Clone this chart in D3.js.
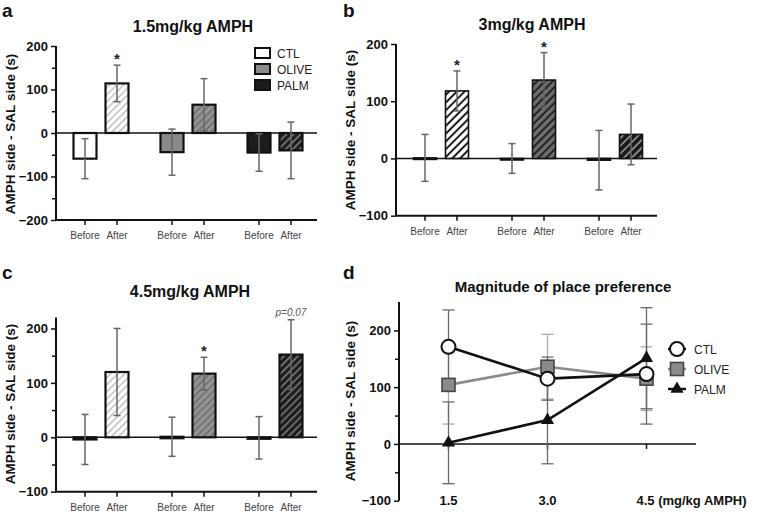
<!DOCTYPE html>
<html lang="en">
<head>
<meta charset="UTF-8">
<title>Place preference</title>
<script src="https://d3js.org/d3.v7.min.js"></script>
<style>
    body { margin: 0; background: #fff; }
    svg { font-family: "Liberation Sans", Arial, sans-serif; }
</style>
</head>
<body>
<div id="chart"></div>
<script>
// data
var groups = ["CTL", "OLIVE", "PALM"];
var phases = ["Before", "After"];

// order: CTL before, CTL after, OLIVE before, OLIVE after, PALM before, PALM after
var meansA = [-59, 114, -44, 65, -45, -40];
var semA   = [46, 42, 53, 60, 43, 65];
var notesA = ["", "*", "", "", "", ""];

var meansB = [1, 118, 0, 137, -3, 42];
var semB   = [41, 35, 26, 48, 52, 53];
var notesB = ["", "*", "", "*", "", ""];

var meansC = [-4, 120, 1, 117, -1, 152];
var semC   = [46, 80, 36, 30, 39, 64];
var notesC = ["", "", "", "*", "", "p=0.07"];

var doses    = [1.5, 3.0, 4.5];
var ctlMag   = [171, 115, 123];
var ctlErr   = [65, 38, 88];
var oliveMag = [104, 136, 115];
var oliveErr = [69, 57, 56];
var palmMag  = [2, 42, 151];
var palmErr  = [72, 77, 89];

var svg = d3.select("#chart").append("svg")
    .attr("width", 759)
    .attr("height", 514);

// hatch patterns
var defs = svg.append("defs");
function hatch(id, bg, fg, w, gap) {
    var p = defs.append("pattern")
        .attr("id", id)
        .attr("patternUnits", "userSpaceOnUse")
        .attr("width", gap).attr("height", gap)
        .attr("patternTransform", "rotate(45)");
    p.append("rect").attr("width", gap).attr("height", gap).attr("fill", bg);
    p.append("line").attr("x1", gap / 2).attr("x2", gap / 2)
        .attr("y1", 0).attr("y2", gap)
        .attr("stroke", fg).attr("stroke-width", w);
}
hatch("ctlLight", "#fff", "#b5b5b5", 1.3, 5);
hatch("oliveLight", "#959595", "#666", 1.4, 5);
hatch("palmLight", "#1c1c1c", "#8a8a8a", 1.4, 5);
hatch("ctlDark", "#fff", "#1a1a1a", 2, 5.5);
hatch("oliveDark", "#6e6e6e", "#222", 2, 5.5);
hatch("palmDark", "#1a1a1a", "#9a9a9a", 1.6, 5.5);

var beforeFill = ["#fff", "#8a8a8a", "#1c1c1c"];

function barPanel(opt) {
    var g = svg.append("g");
    var x = d3.scaleBand().domain(groups).range([opt.x0, opt.x1]);
    var xi = d3.scaleBand().domain(phases).range([13, 77]);
    var y = d3.scaleLinear().domain(opt.domain).range(opt.yRange);
    var barW = 23;

    var rows = [];
    groups.forEach(function (gr, i) {
        phases.forEach(function (ph, j) {
            var k = i * 2 + j;
            rows.push({
                group: gr, phase: ph, gi: i,
                mean: opt.means[k], sem: opt.sem[k], note: opt.notes[k],
                cx: x(gr) + xi(ph) + xi.bandwidth() / 2
            });
        });
    });

    // zero line
    g.append("line")
        .attr("x1", opt.x0).attr("x2", opt.x1)
        .attr("y1", y(0)).attr("y2", y(0))
        .attr("stroke", "#111").attr("stroke-width", 1.4);

    // bars
    g.selectAll("rect.bar").data(rows).enter().append("rect")
        .attr("class", "bar")
        .attr("x", function (d) { return d.cx - barW / 2; })
        .attr("width", barW)
        .attr("y", function (d) { return Math.min(y(d.mean), y(0)); })
        .attr("height", function (d) { return Math.max(Math.abs(y(d.mean) - y(0)), 1.5); })
        .attr("fill", function (d) {
            return d.phase === "Before" ? beforeFill[d.gi] : "url(#" + opt.after[d.gi] + ")";
        })
        .attr("stroke", "#111")
        .attr("stroke-width", opt.barStroke);

    // error bars
    var eb = g.selectAll("g.err").data(rows).enter().append("g")
        .attr("stroke", "#666").attr("stroke-width", 1.5);
    eb.append("line")
        .attr("x1", function (d) { return d.cx; })
        .attr("x2", function (d) { return d.cx; })
        .attr("y1", function (d) { return y(d.mean + d.sem); })
        .attr("y2", function (d) { return y(d.mean - d.sem); });
    [1, -1].forEach(function (s) {
        eb.append("line")
            .attr("x1", function (d) { return d.cx - 3.5; })
            .attr("x2", function (d) { return d.cx + 3.5; })
            .attr("y1", function (d) { return y(d.mean + s * d.sem); })
            .attr("y2", function (d) { return y(d.mean + s * d.sem); });
    });

    // stars / p values
    g.selectAll("text.note").data(rows.filter(function (d) { return d.note; }))
        .enter().append("text")
        .attr("x", function (d) { return d.cx; })
        .attr("y", function (d) { return y(d.mean + d.sem) - (d.note === "*" ? 1 : 4); })
        .attr("text-anchor", "middle")
        .attr("font-size", function (d) { return d.note === "*" ? 15 : 10; })
        .attr("font-weight", function (d) { return d.note === "*" ? "bold" : "normal"; })
        .attr("font-style", function (d) { return d.note === "*" ? "normal" : "italic"; })
        .attr("fill", function (d) { return d.note === "*" ? "#222" : "#555"; })
        .text(function (d) { return d.note; });

    // y axis
    var yAxis = g.append("g")
        .attr("transform", "translate(" + opt.x0 + ",0)")
        .call(d3.axisLeft(y).tickValues(opt.ticks).tickSize(5).tickPadding(3));
    if (opt.minor) {
        g.append("g")
            .attr("transform", "translate(" + opt.x0 + ",0)")
            .call(d3.axisLeft(y).tickValues(opt.minor).tickSize(4).tickFormat(""))
            .select(".domain").remove();
    }
    yAxis.select(".domain").attr("d", "M0," + opt.yRange[0] + "V" + opt.yRange[1]);

    // bottom axis
    g.append("line")
        .attr("x1", opt.x0).attr("x2", opt.x1)
        .attr("y1", opt.yRange[0]).attr("y2", opt.yRange[0])
        .attr("stroke", "#111").attr("stroke-width", 2);
    g.selectAll("line.xt").data(rows).enter().append("line")
        .attr("x1", function (d) { return d.cx; })
        .attr("x2", function (d) { return d.cx; })
        .attr("y1", opt.yRange[0]).attr("y2", opt.yRange[0] + 5)
        .attr("stroke", "#111").attr("stroke-width", 1.5);
    g.selectAll("text.xl").data(rows).enter().append("text")
        .attr("x", function (d) { return d.cx; })
        .attr("y", opt.yRange[0] + 19)
        .attr("text-anchor", "middle")
        .attr("font-size", 10)
        .attr("fill", "#444")
        .text(function (d) { return d.phase; });

    g.selectAll(".tick text").attr("font-size", 13).attr("font-weight", "bold")
        .attr("fill", "#111").attr("font-family", "Liberation Sans, Arial, sans-serif");
    g.selectAll(".tick line").attr("stroke", "#111").attr("stroke-width", 1.5);
    g.selectAll(".domain").attr("stroke", "#111").attr("stroke-width", 2);

    // title
    g.append("text")
        .attr("x", opt.titleX).attr("y", opt.titleY)
        .attr("text-anchor", "middle")
        .attr("font-size", 16).attr("font-weight", "bold")
        .attr("fill", "#111")
        .text(opt.title);

    return g;
}

function yLabel(cx, cy) {
    svg.append("text")
        .attr("transform", "translate(" + cx + "," + cy + ") rotate(-90)")
        .attr("text-anchor", "middle")
        .attr("font-size", 13.5).attr("font-weight", "bold")
        .attr("fill", "#111")
        .text("AMPH side - SAL side (s)");
}

function panelLetter(t, px, py) {
    svg.append("text").attr("x", px).attr("y", py)
        .attr("font-size", 19).attr("font-weight", "bold").attr("fill", "#111")
        .text(t);
}

// panel a
var gA = barPanel({
    x0: 56, x1: 317, domain: [-200, 200], yRange: [220, 46],
    ticks: [-200, -100, 0, 100, 200], minor: [-150, -50, 50, 150],
    means: meansA, sem: semA, notes: notesA,
    after: ["ctlLight", "oliveLight", "palmLight"], barStroke: 2.2,
    title: "1.5mg/kg AMPH", titleX: 193, titleY: 32
});
// legend a
var legA = gA.append("g").attr("transform", "translate(255,48)");
groups.forEach(function (gr, i) {
    legA.append("rect").attr("x", 0).attr("y", i * 16)
        .attr("width", 15).attr("height", 10)
        .attr("fill", beforeFill[i]).attr("stroke", "#111").attr("stroke-width", 2);
    legA.append("text").attr("x", 22).attr("y", i * 16 + 10)
        .attr("font-size", 12).attr("fill", "#222").text(gr);
});

// panel b
barPanel({
    x0: 396, x1: 657, domain: [-100, 200], yRange: [215.7, 44],
    ticks: [-100, 0, 100, 200], minor: null,
    means: meansB, sem: semB, notes: notesB,
    after: ["ctlDark", "oliveDark", "palmDark"], barStroke: 1.6,
    title: "3mg/kg AMPH", titleX: 532, titleY: 30
});

// panel c
barPanel({
    x0: 56, x1: 317, domain: [-100, 220], yRange: [491.7, 317.6],
    ticks: [-100, 0, 100, 200], minor: [-50, 50, 150],
    means: meansC, sem: semC, notes: notesC,
    after: ["ctlLight", "oliveLight", "palmLight"], barStroke: 2.2,
    title: "4.5mg/kg AMPH", titleX: 190, titleY: 297
});

// panel d
var gD = svg.append("g");
var xD = d3.scaleLinear().domain([0.75, 5.25]).range([399, 696]);
var yD = d3.scaleLinear().domain([-100, 250]).range([500.7, 302]);

gD.append("line")
    .attr("x1", 399).attr("x2", 696)
    .attr("y1", yD(0)).attr("y2", yD(0))
    .attr("stroke", "#111").attr("stroke-width", 1.6);
doses.forEach(function (d) {
    gD.append("line")
        .attr("x1", xD(d)).attr("x2", xD(d))
        .attr("y1", yD(0)).attr("y2", yD(0) + 5)
        .attr("stroke", "#111").attr("stroke-width", 1.5);
});

var yAxD = gD.append("g").attr("transform", "translate(399,0)")
    .call(d3.axisLeft(yD).tickValues([-100, 0, 100, 200]).tickSize(5).tickPadding(3));
yAxD.select(".domain").attr("d", "M0,500.7V302");
gD.append("g").attr("transform", "translate(399,0)")
    .call(d3.axisLeft(yD).tickValues([-50, 50, 150]).tickSize(4).tickFormat(""))
    .select(".domain").remove();
gD.selectAll(".tick text").attr("font-size", 13).attr("font-weight", "bold")
    .attr("fill", "#111").attr("font-family", "Liberation Sans, Arial, sans-serif");
gD.selectAll(".tick line").attr("stroke", "#111").attr("stroke-width", 1.5);
gD.selectAll(".domain").attr("stroke", "#111").attr("stroke-width", 2);

var seriesD = [
    { name: "OLIVE", vals: oliveMag, err: oliveErr, line: "#8c8c8c", errC: "#ababab" },
    { name: "CTL", vals: ctlMag, err: ctlErr, line: "#111", errC: "#6a6a6a" },
    { name: "PALM", vals: palmMag, err: palmErr, line: "#111", errC: "#6a6a6a" }
];

// error bars
seriesD.forEach(function (s) {
    doses.forEach(function (d, i) {
        var cx = xD(d);
        var top = yD(s.vals[i] + s.err[i]), bot = yD(s.vals[i] - s.err[i]);
        gD.append("line").attr("x1", cx).attr("x2", cx).attr("y1", top).attr("y2", bot)
            .attr("stroke", s.errC).attr("stroke-width", 1.3);
        [top, bot].forEach(function (yy) {
            gD.append("line").attr("x1", cx - 6).attr("x2", cx + 6).attr("y1", yy).attr("y2", yy)
                .attr("stroke", s.errC).attr("stroke-width", 1.3);
        });
    });
});

var lineD = d3.line()
    .x(function (d) { return xD(d[0]); })
    .y(function (d) { return yD(d[1]); });

seriesD.forEach(function (s) {
    gD.append("path")
        .datum(doses.map(function (d, i) { return [d, s.vals[i]]; }))
        .attr("fill", "none")
        .attr("stroke", s.line)
        .attr("stroke-width", 2.6)
        .attr("d", lineD);
});

function marker(g, name, cx, cy) {
    if (name === "CTL") {
        g.append("circle").attr("cx", cx).attr("cy", cy).attr("r", 7)
            .attr("fill", "#fff").attr("stroke", "#111").attr("stroke-width", 2);
    } else if (name === "OLIVE") {
        g.append("rect").attr("x", cx - 6.5).attr("y", cy - 6.5)
            .attr("width", 13).attr("height", 13)
            .attr("fill", "#8a8a8a").attr("stroke", "#444").attr("stroke-width", 1.6);
    } else {
        g.append("path")
            .attr("transform", "translate(" + cx + "," + cy + ")")
            .attr("d", d3.symbol().type(d3.symbolTriangle).size(75)())
            .attr("fill", "#111");
    }
}

seriesD.forEach(function (s) {
    doses.forEach(function (d, i) {
        marker(gD, s.name, xD(d), yD(s.vals[i]));
    });
});

// legend d
["CTL", "OLIVE", "PALM"].forEach(function (name, i) {
    var ly = 349 + i * 20;
    gD.append("line").attr("x1", 668).attr("x2", 686).attr("y1", ly).attr("y2", ly)
        .attr("stroke", name === "OLIVE" ? "#8c8c8c" : "#111").attr("stroke-width", 2.5);
    marker(gD, name, 677, ly);
    gD.append("text").attr("x", 694).attr("y", ly + 4.5)
        .attr("font-size", 12).attr("fill", "#222").text(name);
});

// x labels d
doses.forEach(function (d, i) {
    gD.append("text")
        .attr("x", i === 2 ? xD(d) - 10 : xD(d))
        .attr("y", 505)
        .attr("text-anchor", i === 2 ? "start" : "middle")
        .attr("font-size", 13).attr("font-weight", "bold").attr("fill", "#111")
        .text(i === 2 ? d3.format(".1f")(d) + " (mg/kg AMPH)" : d3.format(".1f")(d));
});

gD.append("text")
    .attr("x", 563).attr("y", 292)
    .attr("text-anchor", "middle")
    .attr("font-size", 15).attr("font-weight", "bold").attr("fill", "#111")
    .text("Magnitude of place preference");

yLabel(15, 134);
yLabel(355, 130);
yLabel(15, 404);
yLabel(355, 401);

panelLetter("a", 2, 17);
panelLetter("b", 343, 17);
panelLetter("c", 2, 279);
panelLetter("d", 343, 279);
</script>
</body>
</html>
